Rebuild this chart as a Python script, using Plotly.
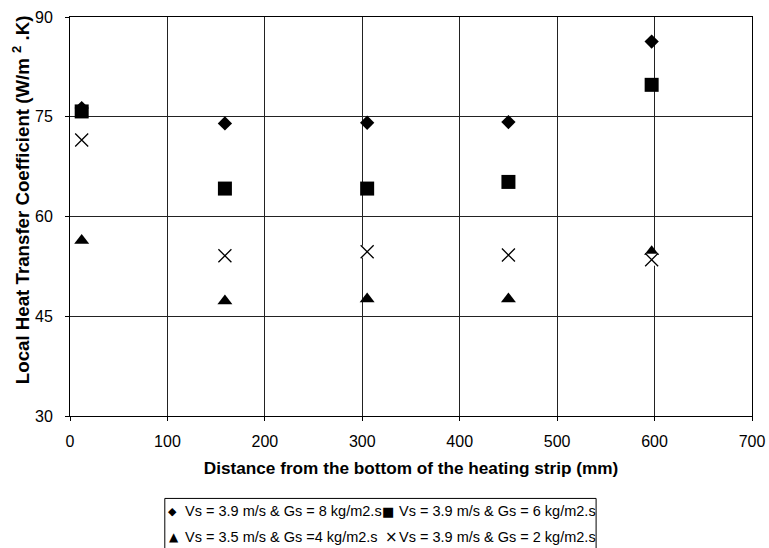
import plotly.graph_objects as go

x_pos = [12, 159, 305, 450, 597]
s1_name = "Vs = 3.9 m/s & Gs = 8 kg/m2.s"
s1_y = [76.3, 74.0, 74.1, 74.2, 86.3]
s2_name = "Vs = 3.9 m/s & Gs = 6 kg/m2.s"
s2_y = [75.8, 64.2, 64.2, 65.2, 79.8]
s3_name = "Vs = 3.5 m/s & Gs =4 kg/m2.s"
s3_y = [56.4, 47.3, 47.6, 47.6, 54.7]
s4_name = "Vs = 3.9 m/s & Gs = 2 kg/m2.s"
s4_y = [71.5, 54.1, 54.7, 54.2, 53.5]

x_ticks = [0, 100, 200, 300, 400, 500, 600, 700]
y_ticks = [30, 45, 60, 75, 90]

x_title = "<b>Distance from the bottom of the heating strip (mm)</b>"
y_title = "<b>Local Heat Transfer Coefficient (W/m <sup>2</sup> .K)</b>"

FONT = "Liberation Sans, Arial, sans-serif"

fig = go.Figure()
fig.add_trace(go.Scatter(x=x_pos, y=s1_y, mode="markers", name=s1_name,
                         marker=dict(symbol="diamond", size=11, color="black")))
fig.add_trace(go.Scatter(x=x_pos, y=s2_y, mode="markers", name=s2_name,
                         marker=dict(symbol="square", size=14, color="black")))
fig.add_trace(go.Scatter(x=x_pos, y=s3_y, mode="markers", name=s3_name,
                         marker=dict(symbol="triangle-up", size=13, color="black")))
# white marker background (as in the original spreadsheet cross markers)
fig.add_trace(go.Scatter(x=x_pos, y=s4_y, mode="markers", name=s4_name,
                         hoverinfo="skip", showlegend=False,
                         marker=dict(symbol="square", size=12, color="white")))
fig.add_trace(go.Scatter(x=x_pos, y=s4_y, mode="markers", name=s4_name,
                         marker=dict(symbol="x-thin-open", size=13, color="black",
                                     line=dict(width=1.3, color="black"))))

# Manual legend (two rows, boxed) below the plot
legend_rows = [
    [("\u25C6", s1_name), ("\u25A0", s2_name)],
    [("\u25B2", s3_name), ("\u00D7", s4_name)],
]
row_y = [-0.2392, -0.3045]
sym_x = [[0.1507, 0.4662], [0.1522, 0.4720]]
sym_size = [[11, 13], [12, 15]]
txt_x = [0.1669, 0.4809]
annotations = []
for r, row in enumerate(legend_rows):
    for c, (sym, label) in enumerate(row):
        annotations.append(dict(x=sym_x[r][c], y=row_y[r], xref="paper", yref="paper",
                                text=sym, showarrow=False, xanchor="center", yanchor="middle",
                                font=dict(size=sym_size[r][c], color="black",
                                          family="DejaVu Sans, sans-serif")))
        annotations.append(dict(x=txt_x[c], y=row_y[r], xref="paper", yref="paper",
                                text=label, showarrow=False, xanchor="left", yanchor="middle",
                                borderpad=0,
                                font=dict(size=14.5, color="black", family=FONT)))

# y-axis title placed as a rotated annotation
annotations.append(dict(x=-0.0718, y=0.541, xref="paper", yref="paper", text=y_title,
                        textangle=-90, showarrow=False, xanchor="center", yanchor="middle",
                        font=dict(size=18.7, color="black", family=FONT)))

shapes = [dict(type="rect", xref="paper", yref="paper", x0=0.139, x1=0.7714,
               y0=-0.40, y1=-0.2066, line=dict(color="black", width=1),
               fillcolor="rgba(0,0,0,0)", layer="above")]

axis_font = dict(family=FONT, size=16, color="black")
fig.update_layout(
    width=769, height=548,
    margin=dict(l=70, r=17, t=17, b=132),
    paper_bgcolor="white", plot_bgcolor="white",
    font=dict(family=FONT, color="black"),
    showlegend=False,
    annotations=annotations,
    shapes=shapes,
    xaxis=dict(range=[0, 700], tickvals=x_ticks, showgrid=True, gridcolor="#222",
               gridwidth=1, showline=True, linecolor="black", mirror=True,
               ticks="outside", ticklen=4, tickcolor="black", tickfont=axis_font,
               ticklabelstandoff=7, zeroline=False, automargin=False,
               title=dict(text=x_title, font=dict(size=17.2), standoff=12)),
    yaxis=dict(range=[30, 90], tickvals=y_ticks, showgrid=True, gridcolor="#222",
               gridwidth=1, showline=True, linecolor="black", mirror=True,
               ticks="outside", ticklen=4, tickcolor="black", tickfont=axis_font,
               ticklabelstandoff=9, zeroline=False, automargin=False),
)

fig.write_html("out.html")
